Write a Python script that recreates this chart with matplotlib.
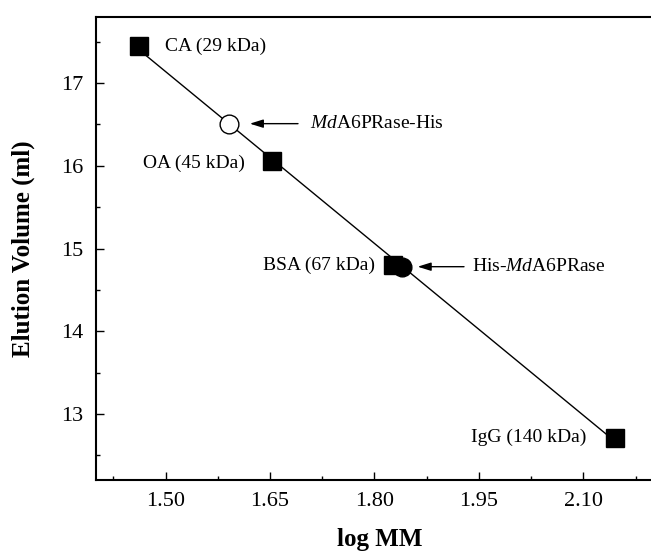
import numpy as np
import matplotlib
matplotlib.use("Agg")
import matplotlib.pyplot as plt

plt.rcParams['font.family'] = 'Liberation Serif'
plt.rcParams['mathtext.fontset'] = 'custom'
plt.rcParams['mathtext.rm'] = 'Liberation Serif'
plt.rcParams['mathtext.it'] = 'Liberation Serif:italic'

# protein standards
std_names = ['CA (29 kDa)', 'OA (45 kDa)', 'BSA (67 kDa)', 'IgG (140 kDa)']
std_kda = [29, 45, 67, 140]
std_volume = [17.45, 16.06, 14.80, 12.71]

# recombinant proteins
sample_names = [r'$\mathit{Md}$A6PRase-His', r'His-$\mathit{Md}$A6PRase']
sample_logmm = [1.591, 1.839]
sample_volume = [16.51, 14.78]
sample_filled = [False, True]

x_ticks = [1.50, 1.65, 1.80, 1.95, 2.10]
y_ticks = [13, 14, 15, 16, 17]

std_logmm = np.log10(std_kda)

fig = plt.figure(figsize=(6.51, 5.57), dpi=100)
ax = fig.add_axes([96 / 651, 77 / 557, 557 / 651, 463 / 557])

# calibration line
slope, icpt = np.polyfit(std_logmm, std_volume, 1)
xl = np.array([std_logmm.min(), std_logmm.max()])
ax.plot(xl, slope * xl + icpt, color='black', lw=1.0, zorder=1)

ax.plot(std_logmm, std_volume, 's', color='black', ms=12.7, zorder=3)
for x, y, filled in zip(sample_logmm, sample_volume, sample_filled):
    ax.plot(x, y, 'o', ms=13.5, mec='black', mew=1.0,
            mfc='black' if filled else 'white', zorder=4)

# standard labels (offsets in points)
std_offsets = [(18.7, 0, 'left'), (-20, -2, 'right'), (-13, 0, 'right'), (-21, 0, 'right')]
for name, x, y, (dx, dy, ha) in zip(std_names, std_logmm, std_volume, std_offsets):
    ax.annotate(name, (x, y), xytext=(dx, dy), textcoords='offset points',
                ha=ha, va='center', fontsize=14)

# arrows pointing to the recombinant proteins
arrow_tail = [49.7, 44.9]
arrow_gap = [15, 11.5]
text_off = [58, 51]
for name, x, y, tail, gap, toff in zip(sample_names, sample_logmm, sample_volume,
                                       arrow_tail, arrow_gap, text_off):
    ax.annotate('', xy=(x, y), xytext=(tail, 0), textcoords='offset points',
                arrowprops=dict(arrowstyle='-|>,head_length=0.8,head_width=0.25',
                                color='black', lw=1.0, shrinkA=0, shrinkB=gap))
    ax.annotate(name, (x, y), xytext=(toff, 0), textcoords='offset points',
                ha='left', va='center', fontsize=14)

ax.set_xlim(1.40, 2.20)
ax.set_ylim(12.2, 17.8)
ax.set_xticks(x_ticks)
ax.set_xticklabels([f'{t:.2f}' for t in x_ticks])
ax.set_yticks(y_ticks)
ax.set_xticks(np.arange(1.425, 2.2, 0.15), minor=True)
ax.set_yticks(np.arange(12.5, 17.8, 1.0), minor=True)
ax.tick_params(which='major', direction='in', length=6, width=1.0, labelsize=16, pad=9)
ax.tick_params(which='minor', direction='in', length=3, width=1.0)
for s in ax.spines.values():
    s.set_linewidth(1.5)

ax.set_xlabel('log MM', fontsize=18, fontweight='bold')
ax.set_ylabel('Elution Volume (ml)', fontsize=18, fontweight='bold')
ax.xaxis.set_label_coords(0.51, -0.104)
ax.yaxis.set_label_coords(-0.11, 0.5)

fig.savefig('out.png', dpi=100)
